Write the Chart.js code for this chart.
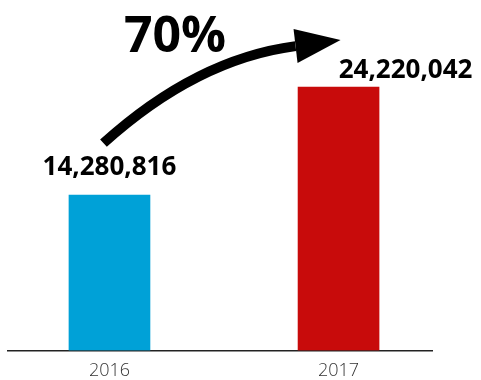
<!DOCTYPE html>
<html>
<head>
<meta charset="utf-8">
<script src="https://cdn.jsdelivr.net/npm/chart.js@4.4.1/dist/chart.umd.min.js"></script>
<style>
  html, body { margin: 0; padding: 0; background: #fff; }
  #wrap { width: 481px; height: 380px; }
</style>
</head>
<body>
<div id="wrap"><canvas id="c"></canvas></div>
<script>
//================================ DADES

const years = ['2016', '2017'];
const visitors = [14280816, 24220042];
const barColors = ['#00a1d7', '#c80b0b'];
const growthLabel = '70%';

//================================ PLUGIN D'ETIQUETES I FLETXA

const fontFamily = '"Open Sans", "DejaVu Sans", sans-serif';

function fmt (n) {
  return n.toLocaleString('en-US');
}

const overlay = {
  id: 'overlay',
  afterDatasetsDraw (chart) {
    const ctx = chart.ctx;
    const bars = chart.getDatasetMeta(0).data;
    const b0 = bars[0];
    const b1 = bars[1];

    // valors sobre les barres
    ctx.save();
    ctx.fillStyle = '#000';
    ctx.font = 'bold 26px ' + fontFamily;
    ctx.textAlign = 'center';
    ctx.textBaseline = 'alphabetic';
    ctx.fillText(fmt(visitors[0]), b0.x, b0.y - 20);
    ctx.fillText(fmt(visitors[1]), b1.x + 67, b1.y - 9);

    // fletxa corba entre les dues barres
    const sx = b0.x - 6, sy = b0.y - 52;
    const ex = b1.x - 43, ey = b1.y - 41;
    const cx = b0.x + 87, cy = b0.y - 136;
    ctx.strokeStyle = '#000';
    ctx.lineWidth = 10;
    ctx.lineCap = 'butt';
    ctx.beginPath();
    ctx.moveTo(sx, sy);
    ctx.quadraticCurveTo(cx, cy, ex, ey);
    ctx.stroke();

    const tx = b1.x + 2, ty = b1.y - 47;
    ctx.fillStyle = '#000';
    ctx.beginPath();
    ctx.moveTo(tx, ty);
    ctx.lineTo(ex - 2, ey - 17);
    ctx.lineTo(ex + 2, ey + 17);
    ctx.closePath();
    ctx.fill();

    // percentatge de creixement
    ctx.font = 'bold 50px ' + fontFamily;
    ctx.textAlign = 'center';
    ctx.fillText(growthLabel, 175, 52);
    ctx.restore();
  }
};

//================================ GRÀFIC

const points = [];
for (let i = 0; i < visitors.length; i++) {
  points.push({ x: i, y: visitors[i] });
}

new Chart(document.getElementById('c'), {
  type: 'bar',
  data: {
    datasets: [
      {
        data: points,
        backgroundColor: barColors,
        borderWidth: 0,
        barThickness: 81,
      },
    ],
  },
  options: {
    responsive: true,
    maintainAspectRatio: false,
    animation: false,
    layout: {
      padding: { top: 0, right: 49, bottom: -12, left: 8 },
    },
    plugins: {
      legend: { display: false },
      tooltip: { enabled: false },
    },
    scales: {
      x: {
        type: 'linear',
        offset: false,
        min: -0.443,
        max: 1.408,
        afterBuildTicks (scale) {
          scale.ticks = [{ value: 0 }, { value: 1 }];
        },
        ticks: {
          color: '#333',
          padding: 10,
          font: { family: fontFamily, size: 18, weight: '300' },
          callback (v) {
            return years[v];
          },
        },
        grid: { display: false, drawTicks: false, offset: false },
        border: { color: '#222', width: 1.5 },
      },
      y: {
        display: false,
        min: 0,
        max: 32230000,
      },
    },
  },
  plugins: [overlay],
});
</script>
</body>
</html>
